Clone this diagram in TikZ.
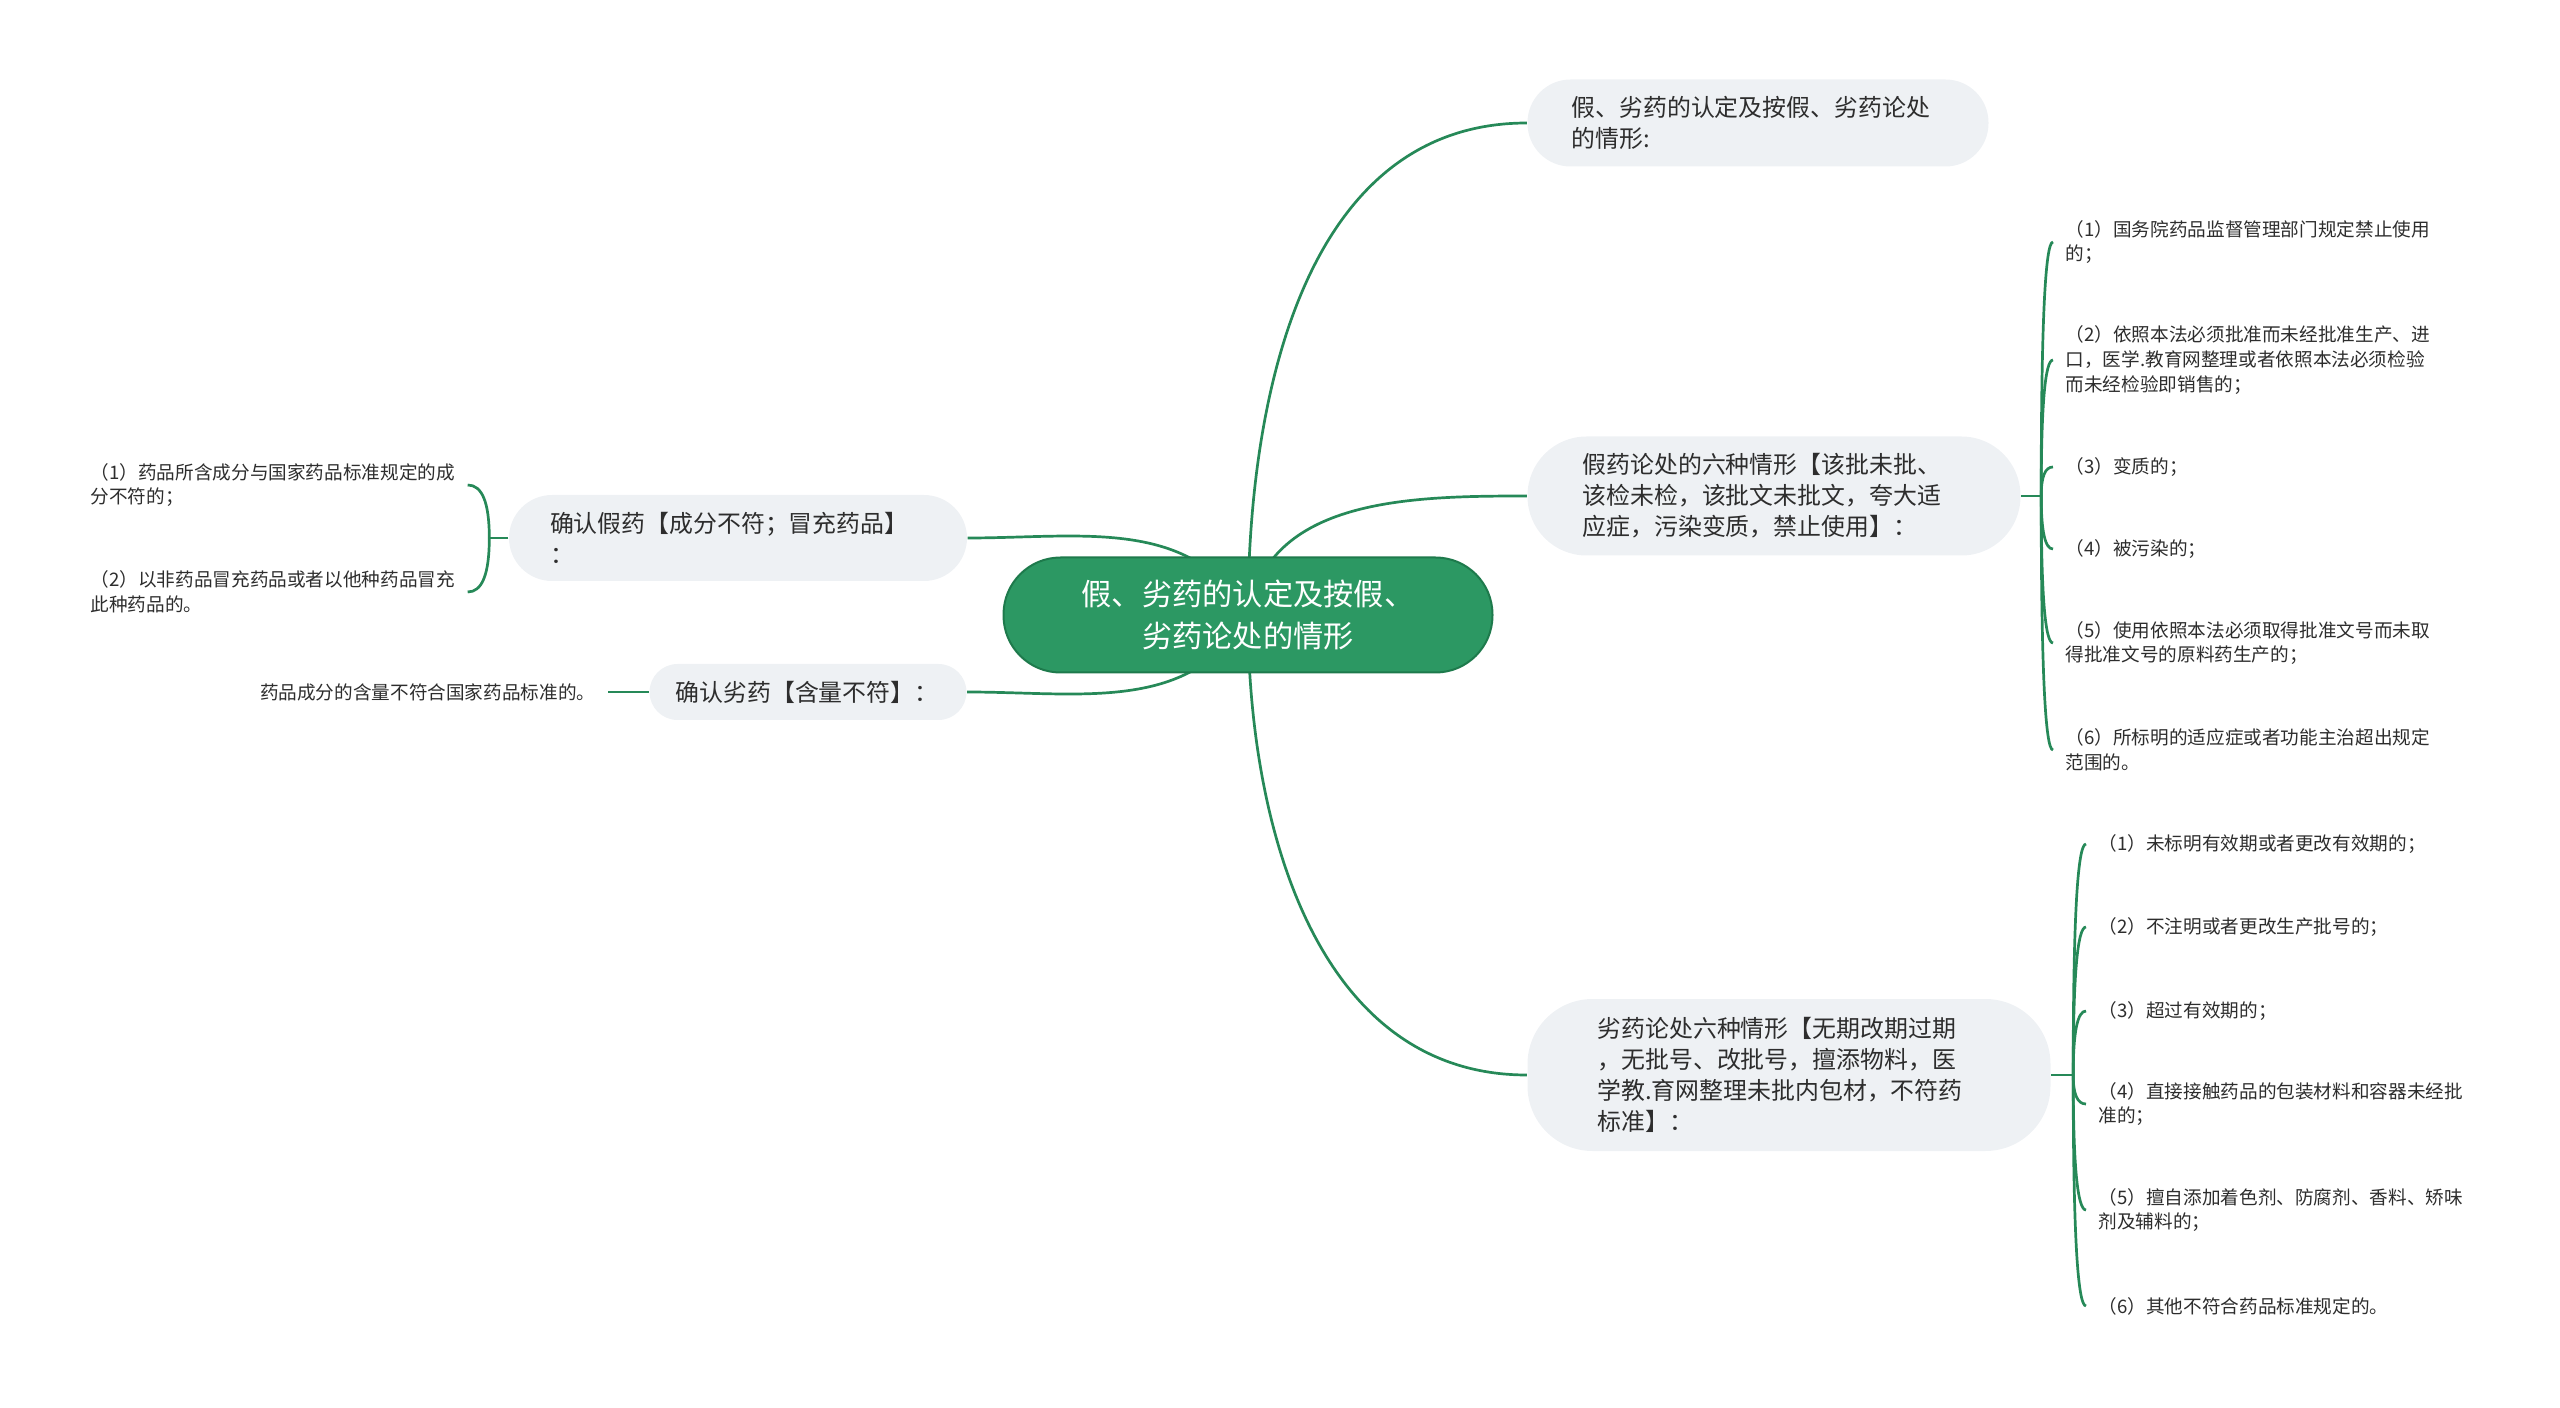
\documentclass[tikz,border=0pt]{standalone}
\usepackage{fontspec}
\newfontfamily\cjk{Noto Sans CJK SC}
\usetikzlibrary{positioning,calc,backgrounds}

\definecolor{linegreen}{RGB}{38,137,88}
\definecolor{rootgreen}{RGB}{44,152,99}
\definecolor{rootedge}{RGB}{30,122,76}
\definecolor{boxgray}{RGB}{238,241,244}
\definecolor{textgray}{RGB}{45,45,45}

\tikzset{
  topic/.style={rectangle,fill=boxgray,align=left,text=textgray,inner ysep=0pt,
    font=\cjk\fontsize{6.8}{8.8}\selectfont},
  leaf/.style={align=left,text=textgray,inner xsep=1.2mm,inner ysep=0pt,
    font=\cjk\fontsize{5.3}{7}\selectfont},
  link/.style={draw=linegreen,line width=0.27mm},
  branch/.style={to path={.. controls ($(\tikztostart)!0.67!(\tikztostart |- \tikztotarget)$)
    and ($(\tikztotarget)!0.67!(\tikztostart |- \tikztotarget)$) .. (\tikztotarget)}}
}

\begin{document}
\begin{tikzpicture}[x=0.1mm,y=-0.1mm]
  \useasboundingbox (0,0) rectangle (2560,1408);

  % centre
  \node[fill=rootgreen,draw=rootedge,line width=0.2mm,text=white,align=center,
    minimum width=48.9mm,minimum height=11.5mm,rounded corners=5.7mm,
    font=\cjk\fontsize{8.6}{12.1}\selectfont] (root) at (1248,615)
    {假、劣药的认定及按假、\\劣药论处的情形};

  % right side
  \node[topic,text width=37.3mm,inner xsep=4.4mm,minimum height=8.7mm,rounded corners=4.3mm]
    (define) at (1758,123) {假、劣药的认定及按假、劣药论处\\的情形:};
  \node[topic,text width=38.3mm,inner xsep=5.5mm,minimum height=11.9mm,rounded corners=5.9mm]
    (fakesix) at (1774,496) {假药论处的六种情形【该批未批、\\该检未检，该批文未批文，夸大适\\应症，污染变质，禁止使用】：};
  \node[topic,text width=38.3mm,inner xsep=7mm,minimum height=15.2mm,rounded corners=6.5mm]
    (poorsix) at (1789,1075) {劣药论处六种情形【无期改期过期\\，无批号、改批号，擅添物料，医\\学教.育网整理未批内包材，不符药\\标准】：};

  % left side
  \node[topic,text width=37.6mm,inner xsep=4.1mm,minimum height=8.6mm,rounded corners=4.3mm]
    (fakeid) at (738,538) {确认假药【成分不符；冒充药品】\\：};
  \node[topic,text width=26.5mm,inner xsep=2.6mm,minimum height=5.6mm,rounded corners=2.8mm]
    (poorid) at (808,692) {确认劣药【含量不符】：};

  \coordinate[right=2mm of fakesix] (b2);
  \coordinate[right=2.2mm of poorsix] (b3);
  \coordinate[left=1.9mm of fakeid] (ba);

  % leaves of fakesix
  \node[leaf,anchor=west] (fk1) at (2053,242) {（1）国务院药品监督管理部门规定禁止使用\\的；};
  \node[leaf,anchor=west] (fk2) at (2053,360) {（2）依照本法必须批准而未经批准生产、进\\口，医学.教育网整理或者依照本法必须检验\\而未经检验即销售的；};
  \node[leaf,anchor=west] (fk3) at (2053,467) {（3）变质的；};
  \node[leaf,anchor=west] (fk4) at (2053,549) {（4）被污染的；};
  \node[leaf,anchor=west] (fk5) at (2053,643) {（5）使用依照本法必须取得批准文号而未取\\得批准文号的原料药生产的；};
  \node[leaf,anchor=west] (fk6) at (2053,750) {（6）所标明的适应症或者功能主治超出规定\\范围的。};

  % leaves of poorsix
  \node[leaf,anchor=west] (pr1) at (2086,844) {（1）未标明有效期或者更改有效期的；};
  \node[leaf,anchor=west] (pr2) at (2086,927) {（2）不注明或者更改生产批号的；};
  \node[leaf,anchor=west] (pr3) at (2086,1011) {（3）超过有效期的；};
  \node[leaf,anchor=west] (pr4) at (2086,1104) {（4）直接接触药品的包装材料和容器未经批\\准的；};
  \node[leaf,anchor=west] (pr5) at (2086,1210) {（5）擅自添加着色剂、防腐剂、香料、矫味\\剂及辅料的；};
  \node[leaf,anchor=west] (pr6) at (2086,1306) {（6）其他不符合药品标准规定的。};

  % leaves on the left
  \node[leaf,anchor=west] (id1) at (78,485) {（1）药品所含成分与国家药品标准规定的成\\分不符的；};
  \node[leaf,anchor=west] (id2) at (78,592) {（2）以非药品冒充药品或者以他种药品冒充\\此种药品的。};
  \node[leaf,anchor=east] (idp) at (608,692) {药品成分的含量不符合国家药品标准的。};

  \begin{scope}[on background layer]
    \draw[link] (root.center) to[out=90,in=180] (define.west);
    \draw[link] (root.center) to[out=80,in=180] (fakesix.west);
    \draw[link] (root.center) to[out=-90,in=180] (poorsix.west);
    \draw[link] (fakeid.east) to[out=0,in=120] (root.center);
    \draw[link] (poorid.east) to[out=0,in=-120] (root.center);
  \end{scope}

  \draw[link] (fakesix.east) -- (b2);
  \foreach \i in {1,...,6} \draw[link,branch] (b2) to (fk\i.west);
  \draw[link] (poorsix.east) -- (b3);
  \foreach \i in {1,...,6} \draw[link,branch] (b3) to (pr\i.west);
  \draw[link] (fakeid.west) -- (ba);
  \foreach \i in {1,2} \draw[link,branch] (ba) to (id\i.east);
  \draw[link] (poorid.west) -- (idp.east);
\end{tikzpicture}
\end{document}
